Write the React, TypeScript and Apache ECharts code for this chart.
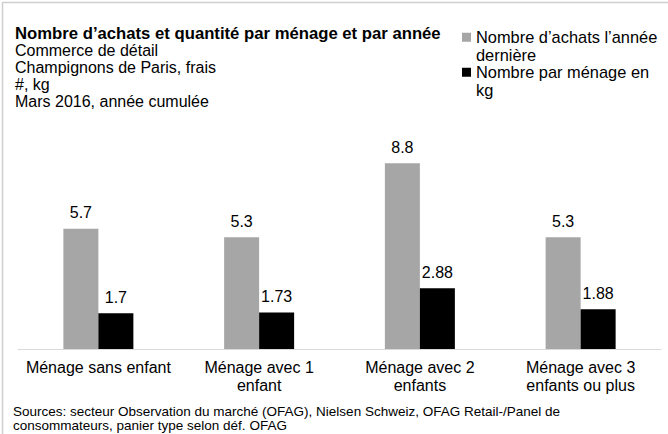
import React, { useEffect, useRef } from "react";
import * as echarts from "echarts";

const categories = [
  "Ménage sans enfant",
  "Ménage avec 1\nenfant",
  "Ménage avec 2\nenfants",
  "Ménage avec 3\nenfants ou plus",
];
const purchasesLastYear = [5.7, 5.3, 8.8, 5.3];
const kgPerHousehold = [1.7, 1.73, 2.88, 1.88];
const seriesNames = ["Nombre d’achats l’année\ndernière", "Nombre par ménage en\nkg"];
const titleText = "Nombre d’achats et quantité par ménage et par année";
const subtitleLines = [
  "Commerce de détail",
  "Champignons de Paris, frais",
  "#, kg",
  "Mars 2016, année cumulée",
];
const sourceLines = [
  "Sources: secteur Observation du marché (OFAG), Nielsen Schweiz, OFAG Retail-/Panel de",
  "consommateurs, panier type selon déf. OFAG",
];

const FONT = "'Liberation Sans', Arial, Helvetica, sans-serif";
const GRAY = "#a6a6a6";
const BLACK = "#000000";

export default function App() {
  const ref = useRef<HTMLDivElement>(null);
  useEffect(() => {
    if (!ref.current) return;
    const chart = echarts.init(ref.current, undefined, { renderer: "svg" });
    const labelCfg = {
      show: true,
      position: "top" as const,
      distance: 8,
      color: "#000",
      fontFamily: FONT,
      fontSize: 16,
    };
    chart.setOption({
      animation: false,
      backgroundColor: "#ffffff",
      textStyle: { fontFamily: FONT },
      title: [
        {
          text: titleText,
          subtext: subtitleLines.join("\n"),
          left: 15,
          top: 25,
          padding: 0,
          itemGap: 0,
          textStyle: { fontFamily: FONT, fontSize: 16.7, fontWeight: "bold", color: "#000", lineHeight: 17 },
          subtextStyle: { fontFamily: FONT, fontSize: 16, color: "#000", lineHeight: 17 },
        },
        {
          text: sourceLines.join("\n"),
          left: 13,
          top: 404,
          padding: 0,
          textStyle: { fontFamily: FONT, fontSize: 13.5, fontWeight: "normal", color: "#000", lineHeight: 14 },
        },
      ],
      legend: {
        orient: "vertical",
        left: 462,
        top: 11,
        padding: 0,
        itemGap: -17.5,
        itemWidth: 9,
        itemHeight: 9,
        icon: "rect",
        selectedMode: false,
        formatter: (name: string) => "\n" + name,
        textStyle: {
          fontFamily: FONT,
          fontSize: 16.4,
          color: "#000",
          lineHeight: 17.5,
        },
        data: seriesNames,
      },
      grid: { left: 18, right: 7, top: 138, bottom: 85, containLabel: false },
      xAxis: {
        type: "category",
        data: categories,
        axisLine: { show: true, lineStyle: { color: "#d9d9d9", width: 1 } },
        axisTick: { show: false },
        axisLabel: {
          color: "#000",
          fontFamily: FONT,
          fontSize: 16,
          lineHeight: 18,
          margin: 9,
          interval: 0,
        },
      },
      yAxis: {
        type: "value",
        min: 0,
        max: 10,
        show: false,
        splitLine: { show: false },
      },
      graphic: [
        {
          type: "polyline",
          shape: { points: [[2.5, 434], [2.5, 2.5], [668, 2.5]] },
          style: { stroke: "#cfcfcf", lineWidth: 1.5, fill: "none" },
          silent: true,
        },
      ],
      series: [
        {
          name: seriesNames[0],
          type: "bar",
          data: purchasesLastYear,
          barWidth: 35,
          barGap: "0%",
          itemStyle: { color: GRAY },
          label: labelCfg,
        },
        {
          name: seriesNames[1],
          type: "bar",
          data: kgPerHousehold,
          barWidth: 35,
          barGap: "0%",
          itemStyle: { color: BLACK },
          label: labelCfg,
        },
      ],
    });
    return () => chart.dispose();
  }, []);
  return (
    <div style={{ position: "fixed", left: 0, top: 0, width: 668, height: 434, background: "#fff" }}>
      <div ref={ref} style={{ width: 668, height: 434 }} />
    </div>
  );
}
